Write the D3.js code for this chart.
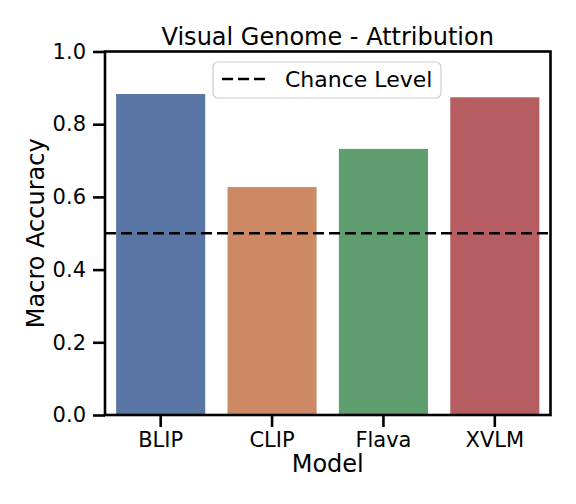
<!DOCTYPE html>
<html><head><meta charset="utf-8">
<script src="https://cdn.jsdelivr.net/npm/d3@7"></script>
<style>body{margin:0;background:#fff}svg{display:block;font-family:"DejaVu Sans",sans-serif}</style>
</head><body><svg id="c" width="576" height="504"></svg>
<script>
const models = ["BLIP", "CLIP", "Flava", "XVLM"];
const accuracy = [0.883, 0.627, 0.732, 0.874];
const colors = ["#5975a4", "#cc8963", "#5f9e6e", "#b55d60"];
const yTicks = [0.0, 0.2, 0.4, 0.6, 0.8, 1.0];
const chance = 0.5;
const title = "Visual Genome - Attribution";
const xLabel = "Model", yLabel = "Macro Accuracy", legendLabel = "Chance Level";

const svg = d3.select("#c");
const L = 105, R = 550.5, T = 51.5, B = 415;
const x = d3.scaleBand().domain(models).range([L, R]).paddingInner(0.2).paddingOuter(0.1);
const y = d3.scaleLinear().domain([0, 1]).range([B, T]);

svg.append("g").selectAll("rect").data(models).join("rect")
  .attr("x", d => x(d)).attr("width", x.bandwidth())
  .attr("y", (d, i) => y(accuracy[i])).attr("height", (d, i) => B - y(accuracy[i]))
  .attr("fill", (d, i) => colors[i]);

svg.append("line").attr("x1", L).attr("x2", R).attr("y1", y(chance)).attr("y2", y(chance))
  .attr("stroke", "#000").attr("stroke-width", 2.6).attr("stroke-dasharray", "11,5");

const yAxis = svg.append("g").attr("transform", `translate(${L},0)`)
  .call(d3.axisLeft(y).tickValues(yTicks).tickFormat(d3.format(".1f")).tickSize(12).tickPadding(7));
const xAxis = svg.append("g").attr("transform", `translate(0,${B})`)
  .call(d3.axisBottom(x).tickSize(12).tickPadding(5));
[yAxis, xAxis].forEach(a => {
  a.select(".domain").remove();
  a.selectAll(".tick line").attr("stroke", "#000").attr("stroke-width", 2.6);
  a.selectAll(".tick text").attr("fill", "#000").attr("font-size", 21).attr("font-family", "DejaVu Sans");
});

svg.append("rect").attr("x", L).attr("y", T).attr("width", R - L).attr("height", B - T)
  .attr("fill", "none").attr("stroke", "#000").attr("stroke-width", 2.6);

svg.append("text").attr("x", (L + R) / 2).attr("y", 45).attr("text-anchor", "middle")
  .attr("font-size", 24).text(title);
svg.append("text").attr("x", (L + R) / 2).attr("y", 472).attr("text-anchor", "middle")
  .attr("font-size", 24).text(xLabel);
svg.append("text").attr("transform", `translate(44,${(T + B) / 2}) rotate(-90)`).attr("text-anchor", "middle")
  .attr("font-size", 24).text(yLabel);

const lg = svg.append("g");
lg.append("rect").attr("x", 213).attr("y", 62).attr("width", 228).attr("height", 36).attr("rx", 5)
  .attr("fill", "rgba(255,255,255,0.8)").attr("stroke", "#cccccc").attr("stroke-width", 1.2);
lg.append("line").attr("x1", 222).attr("x2", 267).attr("y1", 79).attr("y2", 79)
  .attr("stroke", "#000").attr("stroke-width", 2.6).attr("stroke-dasharray", "11,5");
lg.append("text").attr("x", 285).attr("y", 87).attr("font-size", 22).text(legendLabel);
</script></body></html>
